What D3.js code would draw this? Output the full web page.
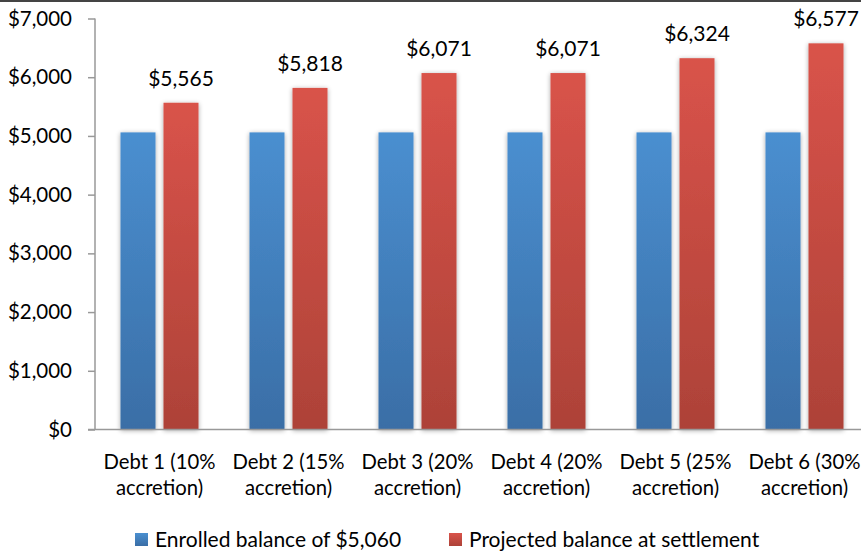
<!DOCTYPE html>
<html><head><meta charset="utf-8">
<script src="https://cdn.jsdelivr.net/npm/d3@7"></script>
<style>body{margin:0;background:#fff;}svg{display:block;font-family:Lato,"Open Sans",sans-serif;}</style>
</head><body><svg id="c" width="861" height="552"></svg>
<script>
const categories = ["Debt 1 (10% accretion)","Debt 2 (15% accretion)","Debt 3 (20% accretion)","Debt 4 (20% accretion)","Debt 5 (25% accretion)","Debt 6 (30% accretion)"];
const enrolled = [5060,5060,5060,5060,5060,5060];
const projected = [5565,5818,6071,6071,6324,6577];
const seriesNames = ["Enrolled balance of $5,060","Projected balance at settlement"];
const yTicks = [0,1000,2000,3000,4000,5000,6000,7000];

(function(){
const svg = d3.select("#c");
const W=861,H=552;
const pL=95, pR=869, pT=18.5, pB=429.5;
const x = d3.scaleBand().domain(categories).range([pL,pR]).paddingInner(0).paddingOuter(0);
const y = d3.scaleLinear().domain([0,7000]).range([pB,pT]);
const defs = svg.append("defs");
function grad(id,c1,c2){const g=defs.append("linearGradient").attr("id",id).attr("x1",0).attr("y1",0).attr("x2",0).attr("y2",1);
 g.append("stop").attr("offset","0%").attr("stop-color",c1);g.append("stop").attr("offset","100%").attr("stop-color",c2);}
grad("gb","#4a8fd0","#3a6ea6");
grad("gr","#d9534a","#ad4238");
const f=defs.append("filter").attr("id","sh").attr("x","-30%").attr("y","-10%").attr("width","160%").attr("height","120%");
f.append("feGaussianBlur").attr("in","SourceAlpha").attr("stdDeviation",2.5).attr("result","b");
f.append("feOffset").attr("in","b").attr("dx",0).attr("dy",1).attr("result","o");
f.append("feComponentTransfer").attr("in","o").attr("result","o2").append("feFuncA").attr("type","linear").attr("slope",0.35);
const m=f.append("feMerge");m.append("feMergeNode").attr("in","o2");m.append("feMergeNode").attr("in","SourceGraphic");

const barW=35, gap=8;
const series=[{vals:enrolled,fill:"url(#gb)",off:-(gap/2+barW)},{vals:projected,fill:"url(#gr)",off:gap/2}];
series.forEach(s=>{
 svg.append("g").selectAll("rect").data(categories).join("rect")
  .attr("x",(d,i)=>x(d)+x.bandwidth()/2+s.off).attr("width",barW)
  .attr("y",(d,i)=>y(s.vals[i])).attr("height",(d,i)=>y(0)-y(s.vals[i]))
  .attr("fill",s.fill).attr("filter","url(#sh)");
});
svg.append("g").selectAll("text").data(categories).join("text")
 .attr("x",d=>x(d)+x.bandwidth()/2+gap/2+barW/2).attr("y",(d,i)=>y(projected[i])-17)
 .attr("text-anchor","middle").attr("font-size",21).attr("fill","#000").text((d,i)=>"$"+d3.format(",")(projected[i]));

const ya=svg.append("g").attr("transform",`translate(${pL},0)`).call(d3.axisLeft(y).tickValues(yTicks).tickSize(7).tickPadding(16).tickFormat(d=>"$"+d3.format(",")(d)));
ya.select(".domain").attr("stroke","#999").attr("stroke-width",1.5).attr("d",`M0,${pT}V${pB}`);
ya.selectAll(".tick line").attr("stroke","#999").attr("stroke-width",1.5);
ya.selectAll(".tick text").attr("font-size",20.5).attr("fill","#000").attr("font-family","Lato");
const xa=svg.append("g").attr("transform",`translate(0,${pB})`).call(d3.axisBottom(x).tickSize(0).tickFormat(""));
xa.select(".domain").attr("stroke","#999").attr("stroke-width",1.5).attr("d",`M${pL-7},0H${W}`);
const xl=svg.append("g").selectAll("text").data(categories).join("text")
 .attr("text-anchor","middle").attr("font-size",20.3).attr("fill","#000");
xl.each(function(d){const t=d3.select(this);const k=d.indexOf("% ")+1;const parts=[d.slice(0,k),d.slice(k+1)];
 const cx=x(d)+x.bandwidth()/2;
 t.append("tspan").attr("x",cx).attr("y",469).text(parts[0]);
 t.append("tspan").attr("x",cx).attr("y",495).text(parts[1]);
});
svg.append("rect").attr("x",0).attr("y",0).attr("width",W).attr("height",2).attr("fill","#444");
const lg=svg.append("g");
const legX=[135,449];
seriesNames.forEach((n,i)=>{
 lg.append("rect").attr("x",legX[i]).attr("y",533).attr("width",13).attr("height",13).attr("fill",i?"url(#gr)":"url(#gb)");
 lg.append("text").attr("x",legX[i]+20).attr("y",547).attr("font-size",21).attr("fill","#000").text(n);
});
})();
</script></body></html>
